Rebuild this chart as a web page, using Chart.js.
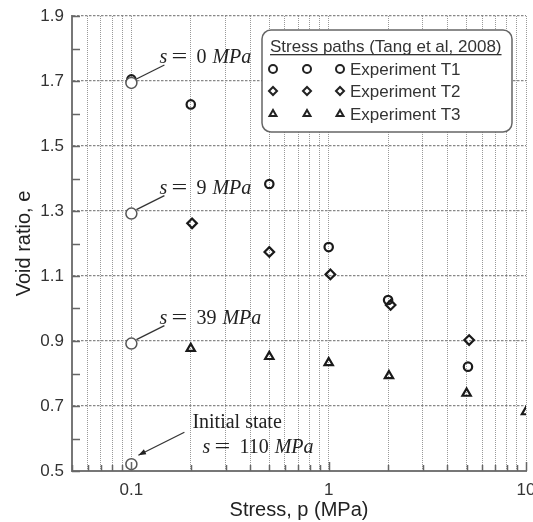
<!DOCTYPE html>
<html>
<head>
<meta charset="utf-8">
<script src="https://cdn.jsdelivr.net/npm/chart.js@4.4.0/dist/chart.umd.min.js"></script>
<style>
  html, body { margin: 0; padding: 0; background: #fff; }
</style>
</head>
<body>
<canvas id="chart" width="533" height="522"></canvas>
<script>
// tick values
const xTicks = [0.05,0.06,0.07,0.08,0.09,0.1,0.2,0.3,0.4,0.5,0.6,0.7,0.8,0.9,1,2,3,4,5,6,7,8,9,10];
const xLabels = [0.1, 1, 10];

// Experiment T1 (circles)
const t1Stress = [0.1, 0.2, 0.5, 1, 2, 5.08];
const t1Void = [1.705, 1.628, 1.383, 1.189, 1.026, 0.821];
// Experiment T2 (diamonds)
const t2Stress = [0.203, 0.5, 1.02, 2.06, 5.15];
const t2Void = [1.262, 1.174, 1.105, 1.011, 0.903];
// Experiment T3 (triangles)
const t3Stress = [0.2, 0.5, 1, 2.02, 5, 10];
const t3Void = [0.877, 0.852, 0.833, 0.793, 0.739, 0.682];
// starting points of each path
const initStress = [0.1, 0.1, 0.1, 0.1];
const initVoid = [1.694, 1.292, 0.892, 0.521];
const suctions = ['0', '9', '39', '110'];

const legendTitle = 'Stress paths (Tang et al, 2008)';
const legendNames = ['Experiment T1', 'Experiment T2', 'Experiment T3'];

function pts(xs, ys) {
  return xs.map((x, i) => ({ x: x, y: ys[i] }));
}

const isMajorY = v => Math.round(v * 10) % 2 === 1;

// inward tick marks on both axes
const tickMarks = {
  id: 'tickMarks',
  afterDatasetsDraw(chart) {
    const ctx = chart.ctx;
    const area = chart.chartArea;
    const xs = chart.scales.x, ys = chart.scales.y;
    ctx.save();
    ctx.strokeStyle = '#666';
    ctx.lineWidth = 1.5;
    ctx.beginPath();
    ys.ticks.forEach(t => {
      const y = Math.round(ys.getPixelForValue(t.value)) + 0.5;
      ctx.moveTo(area.left, y);
      ctx.lineTo(area.left + 8, y);
    });
    xs.ticks.forEach(t => {
      const x = Math.round(xs.getPixelForValue(t.value)) + 0.5;
      const len = xLabels.includes(t.value) ? 9 : 6;
      ctx.moveTo(x, area.bottom);
      ctx.lineTo(x, area.bottom - len);
    });
    ctx.stroke();
    ctx.restore();
  }
};

function mathLabel(ctx, x, y, num) {
  ctx.fillStyle = '#222';
  ctx.textBaseline = 'alphabetic';
  ctx.textAlign = 'left';
  ctx.font = 'italic 20px "Liberation Serif"';
  ctx.fillText('s', x, y);
  ctx.font = '20px "Liberation Serif"';
  ctx.save();
  ctx.translate(x + 12, y);
  ctx.scale(1.4, 1);
  ctx.fillText('=', 0, 0);
  ctx.restore();
  ctx.fillText(num, x + 37, y);
  const w = ctx.measureText(num).width;
  ctx.font = 'italic 20px "Liberation Serif"';
  ctx.fillText('MPa', x + 37 + w + 6, y);
}

// suction labels with leader lines
const annotations = {
  id: 'annotations',
  afterDatasetsDraw(chart) {
    const ctx = chart.ctx;
    const xs = chart.scales.x, ys = chart.scales.y;
    ctx.save();
    ctx.strokeStyle = '#333';
    ctx.fillStyle = '#333';
    ctx.lineWidth = 1.2;
    initVoid.forEach((v, i) => {
      const px = xs.getPixelForValue(initStress[i]);
      const py = ys.getPixelForValue(v);
      if (i < 3) {
        ctx.beginPath();
        ctx.moveTo(px + 5, py - 4);
        ctx.lineTo(px + 33, py - 18);
        ctx.stroke();
        mathLabel(ctx, px + 28, py - 20, suctions[i]);
      } else {
        // arrow to the initial state
        const x0 = px + 53, y0 = py - 32, x1 = px + 7, y1 = py - 9;
        ctx.beginPath();
        ctx.moveTo(x0, y0);
        ctx.lineTo(x1, y1);
        ctx.stroke();
        const a = Math.atan2(y1 - y0, x1 - x0);
        ctx.beginPath();
        ctx.moveTo(x1, y1);
        ctx.lineTo(x1 - 8 * Math.cos(a - 0.35), y1 - 8 * Math.sin(a - 0.35));
        ctx.lineTo(x1 - 8 * Math.cos(a + 0.35), y1 - 8 * Math.sin(a + 0.35));
        ctx.closePath();
        ctx.fill();
        ctx.font = '20px "Liberation Serif"';
        ctx.fillStyle = '#222';
        ctx.textAlign = 'left';
        ctx.textBaseline = 'alphabetic';
        ctx.fillText('Initial state', px + 61, py - 36);
        mathLabel(ctx, px + 71, py - 11, suctions[i]);
      }
    });
    ctx.restore();
  }
};

// boxed legend with three markers per row
const boxLegend = {
  id: 'boxLegend',
  afterDraw(chart) {
    const ctx = chart.ctx;
    const bx = 262, by = 30, bw = 250, bh = 102;
    ctx.save();
    ctx.beginPath();
    ctx.roundRect(bx, by, bw, bh, 9);
    ctx.fillStyle = '#fff';
    ctx.fill();
    ctx.strokeStyle = '#666';
    ctx.lineWidth = 1.5;
    ctx.stroke();

    ctx.fillStyle = '#333';
    ctx.font = '17px "Liberation Sans"';
    ctx.textAlign = 'left';
    ctx.textBaseline = 'alphabetic';
    ctx.fillText(legendTitle, 270, 52);
    const tw = ctx.measureText(legendTitle).width;
    ctx.fillRect(270, 54, tw, 1.3);

    const styles = ['circle', 'rectRot', 'triangle'];
    const rowY = [69, 91, 114];
    ctx.textBaseline = 'middle';
    legendNames.forEach((name, i) => {
      ctx.strokeStyle = '#222';
      ctx.fillStyle = 'rgba(0,0,0,0)';
      ctx.lineWidth = 2;
      [273, 307, 340].forEach(mx => {
        Chart.helpers.drawPoint(ctx, { pointStyle: styles[i], radius: 4, borderWidth: 2, rotation: 0 }, mx, rowY[i]);
      });
      ctx.fillStyle = '#333';
      ctx.fillText(name, 350, rowY[i] + 1);
    });
    ctx.restore();
  }
};

const hollow = (style, r) => ({
  pointStyle: style,
  pointRadius: r,
  pointBorderWidth: 2.2,
  pointBorderColor: '#1a1a1a',
  pointBackgroundColor: 'rgba(0,0,0,0)',
  showLine: false
});

new Chart(document.getElementById('chart'), {
  type: 'scatter',
  data: {
    datasets: [
      {
        label: 'Initial',
        data: pts(initStress, initVoid),
        pointStyle: 'circle',
        pointRadius: 5.5,
        pointBorderWidth: 1.5,
        pointBorderColor: '#555',
        pointBackgroundColor: '#fff'
      },
      Object.assign({ label: legendNames[0], data: pts(t1Stress, t1Void) }, hollow('circle', 4.2)),
      Object.assign({ label: legendNames[1], data: pts(t2Stress, t2Void) }, hollow('rectRot', 4.8)),
      Object.assign({ label: legendNames[2], data: pts(t3Stress, t3Void) }, hollow('triangle', 4.8))
    ]
  },
  options: {
    responsive: false,
    animation: false,
    layout: { padding: { top: 16, right: 6, left: 0, bottom: 0 } },
    plugins: {
      legend: { display: false },
      tooltip: { enabled: false }
    },
    scales: {
      x: {
        type: 'logarithmic',
        min: 0.05,
        max: 10,
        afterBuildTicks(scale) {
          scale.ticks = xTicks.map(v => ({ value: v }));
        },
        afterFit(scale) {
          scale.height = 51;
          scale.paddingLeft = 0;
          scale.paddingRight = 0;
        },
        ticks: {
          autoSkip: false,
          maxRotation: 0,
          padding: 9,
          color: '#333',
          font: { family: '"Liberation Sans"', size: 17 },
          callback: v => (xLabels.includes(v) ? String(v) : '')
        },
        grid: {
          drawTicks: false,
          color: '#999',
          lineWidth: 1
        },
        border: { display: true, color: '#777', width: 2, dash: [1, 1] },
        title: {
          display: true,
          text: 'Stress, p (MPa)',
          color: '#222',
          font: { family: '"Liberation Sans"', size: 20 },
          padding: { top: 0, bottom: 0 }
        }
      },
      y: {
        min: 0.5,
        max: 1.9,
        afterFit(scale) {
          scale.width = 72;
          scale.paddingTop = 0;
          scale.paddingBottom = 0;
        },
        ticks: {
          stepSize: 0.1,
          autoSkip: false,
          padding: 8,
          color: '#333',
          font: { family: '"Liberation Sans"', size: 17 },
          callback: v => (isMajorY(v) ? v.toFixed(1) : '')
        },
        grid: {
          drawTicks: false,
          color: ctx => (ctx.tick && isMajorY(ctx.tick.value) ? '#888' : 'rgba(0,0,0,0)'),
          lineWidth: 1.2
        },
        border: { display: true, color: '#777', width: 2, dash: [2.5, 1.5] },
        title: {
          display: true,
          text: 'Void ratio, e',
          color: '#222',
          font: { family: '"Liberation Sans"', size: 20 },
          padding: { top: 12, bottom: 4 }
        }
      }
    }
  },
  plugins: [tickMarks, annotations, boxLegend]
});
</script>
</body>
</html>
